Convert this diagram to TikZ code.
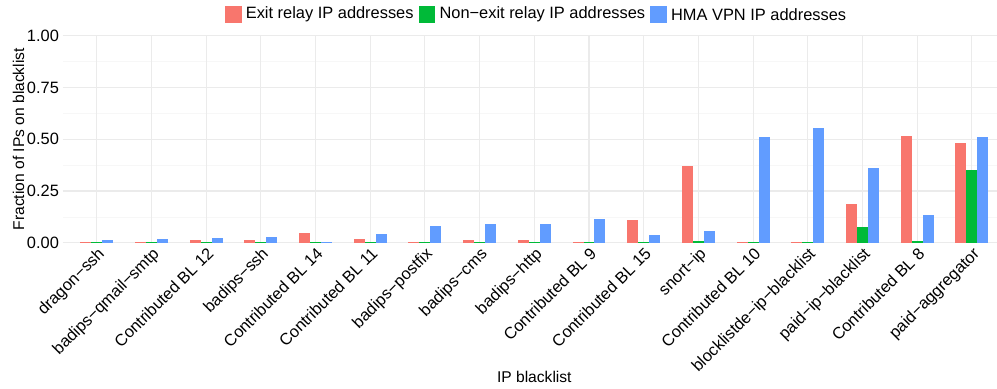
\documentclass[tikz,border=0pt]{standalone}
\usepackage{fontspec}
\setmainfont{Liberation Sans}
\usepackage{tikz}
\usetikzlibrary{positioning}
\definecolor{exitred}{HTML}{F8766D}
\definecolor{relaygreen}{HTML}{00BA38}
\definecolor{vpnblue}{HTML}{619CFF}
\definecolor{gridmajor}{HTML}{EBEBEB}
\definecolor{gridminor}{HTML}{F7F7F7}

\begin{document}
\begin{tikzpicture}[x=27.35pt, y=103.5pt, font=\fontsize{8.2}{9}\selectfont,
  majorgrid/.style={gridmajor, line width=0.55pt},
  minorgrid/.style={gridminor, line width=0.3pt},
  legkey/.style={minimum size=8.35pt, inner sep=0pt},
  legtext/.style={inner sep=0pt, anchor=west},
  axtitle/.style={font=\fontsize{7.8}{9}\selectfont}]
  \useasboundingbox (-21pt,-72.65pt) rectangle (477.5pt,121.35pt);
  % grid
  \foreach \v in {0.125,0.375,0.625,0.875}
    \draw[minorgrid] (0.378,\v) -- (17.46,\v);
  \foreach \v in {0,0.25,0.5,0.75,1}
    \draw[majorgrid] (0.378,\v) -- (17.46,\v);
  \foreach \k in {1,...,17}
    \draw[majorgrid] (\k,0) -- (\k,1);
  % y ticks
  \foreach \v/\t [count=\i] in {0/0.00,0.25/0.25,0.5/0.50,0.75/0.75,1/1.00}
    \node[anchor=east, inner sep=0pt, xshift=-1.7pt] (ytick\i) at (0.378,\v) {\t};
  % bars, one group per blacklist
  \foreach \k/\lab/\r/\g/\b in {
      1/dragon−ssh/.004/.004/.0145,
      2/badips−qmail−smtp/.004/.004/.019,
      3/Contributed BL 12/.0145/.004/.024,
      4/badips−ssh/.0145/.005/.029,
      5/Contributed BL 14/.048/.004/.004,
      6/Contributed BL 11/.019/.004/.0435,
      7/badips−postfix/.004/.004/.082,
      8/badips−cms/.0145/.004/.092,
      9/badips−http/.0145/.004/.092,
      10/Contributed BL 9/.004/.004/.116,
      11/Contributed BL 15/.111/.004/.039,
      12/snort−ip/.372/.01/.058,
      13/Contributed BL 10/.004/.004/.512,
      14/blocklistde−ip−blacklist/.004/.004/.556,
      15/paid−ip−blacklist/.188/.077/.362,
      16/Contributed BL 8/.517/.006/.135,
      17/paid−aggregator/.483/.353/.512}{
    \fill[exitred] (\k-0.3,0) rectangle (\k-0.1,\r);
    \fill[relaygreen] (\k-0.1,0) rectangle (\k+0.1,\g);
    \fill[vpnblue] (\k+0.1,0) rectangle (\k+0.3,\b);
    \node[rotate=45, anchor=north east, inner sep=0pt] (xtick\k) at ([yshift=-1.6pt]\k,0) {\lab};
  }
  % axis titles
  \node[axtitle, rotate=90] (ytitle) at (-0.43,0.5) {Fraction of IPs on blacklist};
  \node[axtitle] (xtitle) at (9.0,-0.646) {IP blacklist};
  % legend
  \node[legkey, fill=exitred] (keyexit) at (95.7pt,114.1pt) {};
  \node[legtext, right=1.65pt of keyexit] (labexit) {Exit relay IP addresses};
  \node[legkey, fill=relaygreen, right=2.2pt of labexit] (keyrelay) {};
  \node[legtext, right=1.65pt of keyrelay] (labrelay) {Non−exit relay IP addresses};
  \node[legkey, fill=vpnblue, right=2.2pt of labrelay] (keyvpn) {};
  \node[legtext, right=1.65pt of keyvpn] (labvpn) {HMA VPN IP addresses};
\end{tikzpicture}
\end{document}
